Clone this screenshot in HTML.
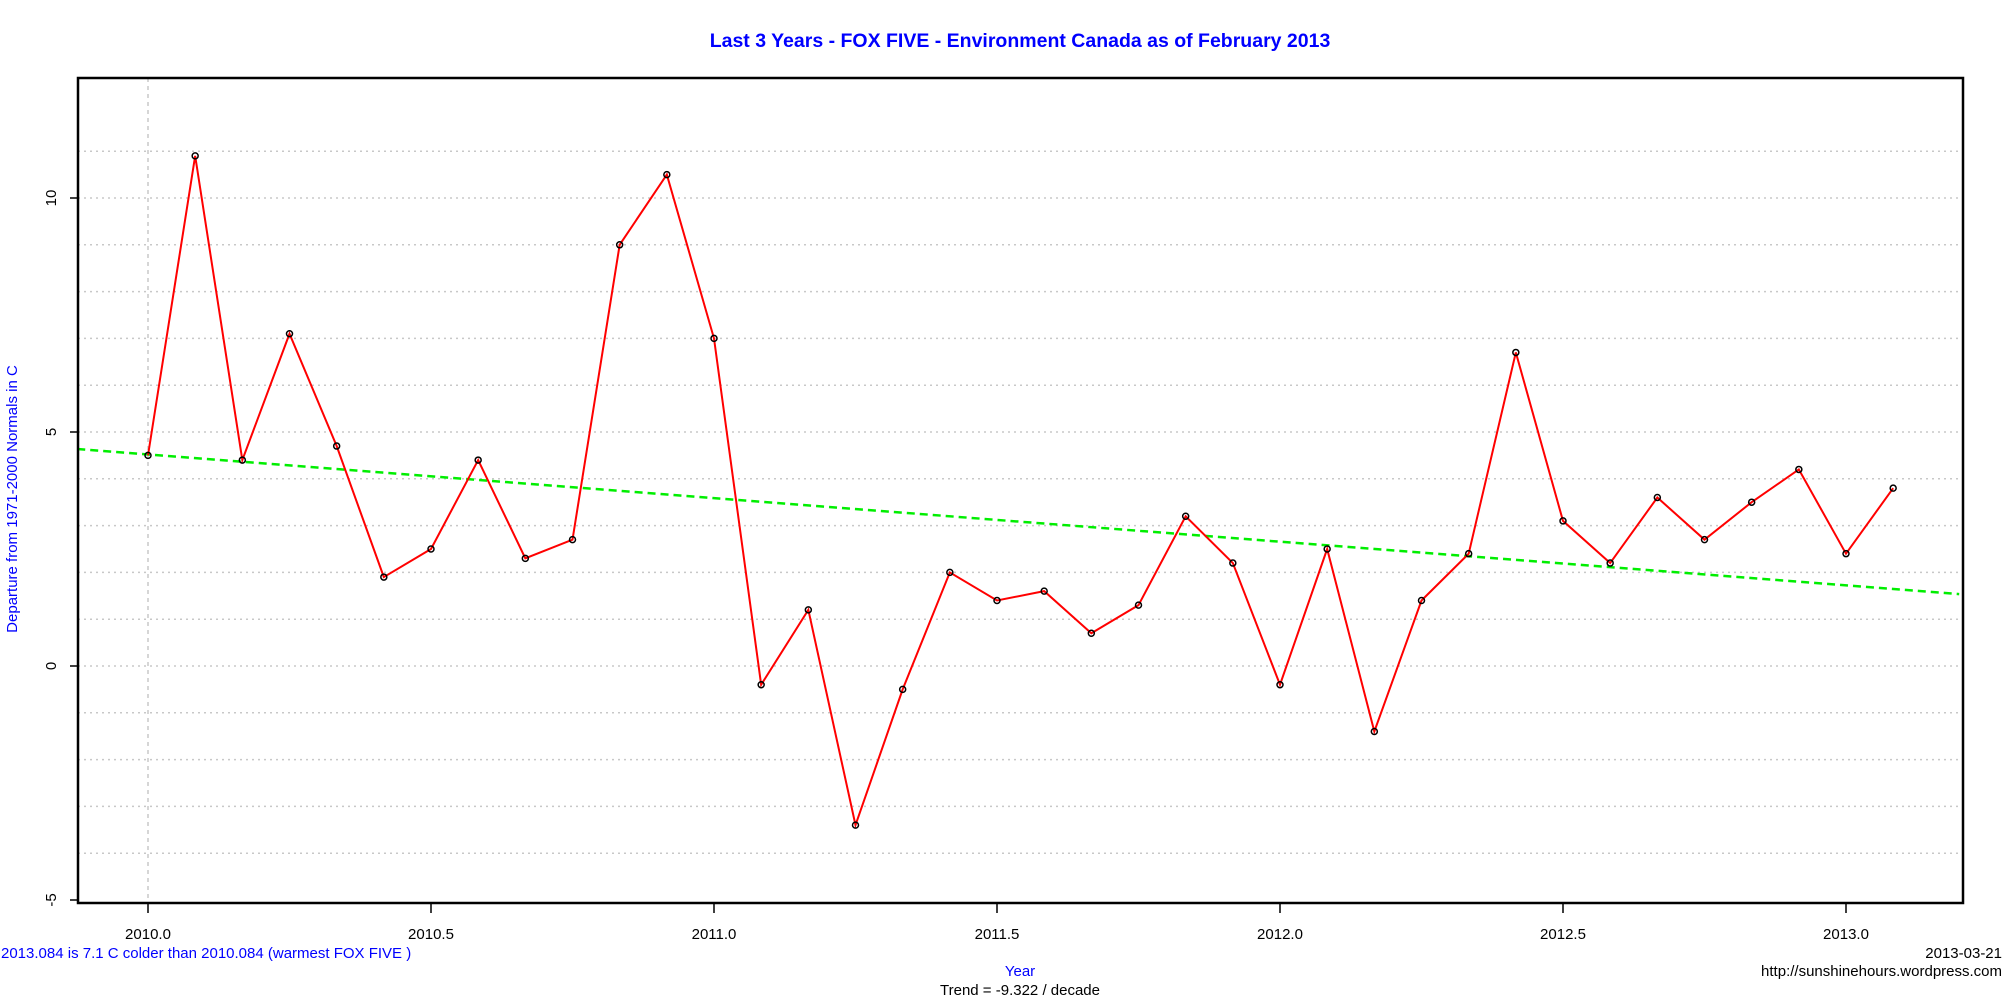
<!DOCTYPE html>
<html><head><meta charset="utf-8"><style>
html,body{margin:0;padding:0;background:#fff}
svg{display:block;font-family:"Liberation Sans",Arial,sans-serif}
</style></head><body>
<svg id="chart" width="2004" height="1001" viewBox="0 0 2004 1001" xmlns="http://www.w3.org/2000/svg">
<text x="1020" y="47" text-anchor="middle" font-size="19.5" font-weight="bold" fill="#0000ff">Last 3 Years - FOX FIVE - Environment Canada as of  February 2013</text>
<g id="grid"></g>
<g id="plot"></g>
<rect x="78" y="78" width="1885" height="825" fill="none" stroke="#000" stroke-width="2.5"/>
<g id="axes"></g>
<text transform="translate(17,499) rotate(-90)" text-anchor="middle" font-size="15" fill="#0000ff">Departure from 1971-2000 Normals in C</text>
<text x="1020" y="976" text-anchor="middle" font-size="15" fill="#0000ff">Year</text>
<text x="1020" y="995" text-anchor="middle" font-size="15" fill="#000">Trend = -9.322 / decade</text>
<text x="1" y="958" font-size="15" fill="#0000ff">2013.084 is 7.1 C  colder than 2010.084 (warmest FOX FIVE )</text>
<text x="2002" y="958" text-anchor="end" font-size="15" fill="#000">2013-03-21</text>
<text x="2002" y="976" text-anchor="end" font-size="15" fill="#000">http://sunshinehours.wordpress.com</text>
</svg>
<script>
const values = [4.5,10.9,4.4,7.1,4.7,1.9,2.5,4.4,2.3,2.7,9.0,10.5,
7.0,-0.4,1.2,-3.4,-0.5,2.0,1.4,1.6,0.7,1.3,3.2,2.2,
-0.4,2.5,-1.4,1.4,2.4,6.7,3.1,2.2,3.6,2.7,3.5,4.2,
2.4,3.8];
const startYear = 2010.0;
const xTicks = [2010.0,2010.5,2011.0,2011.5,2012.0,2012.5,2013.0];
const yTicks = [-5,0,5,10];
const gridLevels = [-4,-3,-2,-1,0,1,2,3,4,5,6,7,8,9,10,11];
const trendIntercept = 4.52;
const trendSlope = -0.9322;

const NS='http://www.w3.org/2000/svg';
const L=78,R=1963,T=78,B=903;
const X=t=>148+(t-2010)*566;
const Y=v=>666-v*46.8;
function mk(tag,parent){const e=document.createElementNS(NS,tag);parent.appendChild(e);return e;}
const grid=document.getElementById('grid'),plot=document.getElementById('plot'),axes=document.getElementById('axes');

gridLevels.forEach(v=>{const l=mk('line',grid);


l.setAttribute('x1',L);l.setAttribute('x2',R);l.setAttribute('y1',Y(v));l.setAttribute('y2',Y(v));
l.setAttribute('stroke','#c8c8c8');l.setAttribute('stroke-width','1.5');l.setAttribute('stroke-dasharray','2,4');});
{const l=mk('line',grid);


l.setAttribute('x1',X(2010));l.setAttribute('x2',X(2010));l.setAttribute('y1',T);l.setAttribute('y2',B);
l.setAttribute('stroke','#c8c8c8');l.setAttribute('stroke-width','1.5');l.setAttribute('stroke-dasharray','4,4');}

const tl=mk('line',plot);


const t0=2009.875,t1=2013.2;
tl.setAttribute('x1',X(t0));tl.setAttribute('y1',Y(trendIntercept+trendSlope*(t0-2010)));
tl.setAttribute('x2',X(t1));tl.setAttribute('y2',Y(trendIntercept+trendSlope*(t1-2010)));
tl.setAttribute('stroke','#00ee00');tl.setAttribute('stroke-width','2.5');tl.setAttribute('stroke-dasharray','8,5');

const pts=values.map((v,i)=>[X(startYear+i/12),Y(v)]);
const pl=mk('polyline',plot);


pl.setAttribute('points',pts.map(p=>p.join(',')).join(' '));
pl.setAttribute('fill','none');pl.setAttribute('stroke','#ff0000');pl.setAttribute('stroke-width','2');
pts.forEach(p=>{const c=mk('circle',plot);


c.setAttribute('cx',p[0]);c.setAttribute('cy',p[1]);c.setAttribute('r','3');
c.setAttribute('fill','none');c.setAttribute('stroke','#000');c.setAttribute('stroke-width','1.5');});

xTicks.forEach(t=>{const l=mk('line',axes);


l.setAttribute('x1',X(t));l.setAttribute('x2',X(t));l.setAttribute('y1',B);l.setAttribute('y2',B+10);
l.setAttribute('stroke','#000');l.setAttribute('stroke-width','1.5');
const tx=mk('text',axes);


tx.setAttribute('x',X(t));tx.setAttribute('y',B+36);tx.setAttribute('text-anchor','middle');tx.setAttribute('font-size','15');
tx.textContent=t.toFixed(1);});
yTicks.forEach(v=>{const l=mk('line',axes);


l.setAttribute('x1',L-8);l.setAttribute('x2',L);l.setAttribute('y1',Y(v));l.setAttribute('y2',Y(v));
l.setAttribute('stroke','#000');l.setAttribute('stroke-width','1.5');
const tx=mk('text',axes);


tx.setAttribute('transform','translate(56,'+Y(v)+') rotate(-90)');tx.setAttribute('text-anchor','middle');tx.setAttribute('font-size','15');
tx.textContent=String(v);});
</script>
</body></html>
